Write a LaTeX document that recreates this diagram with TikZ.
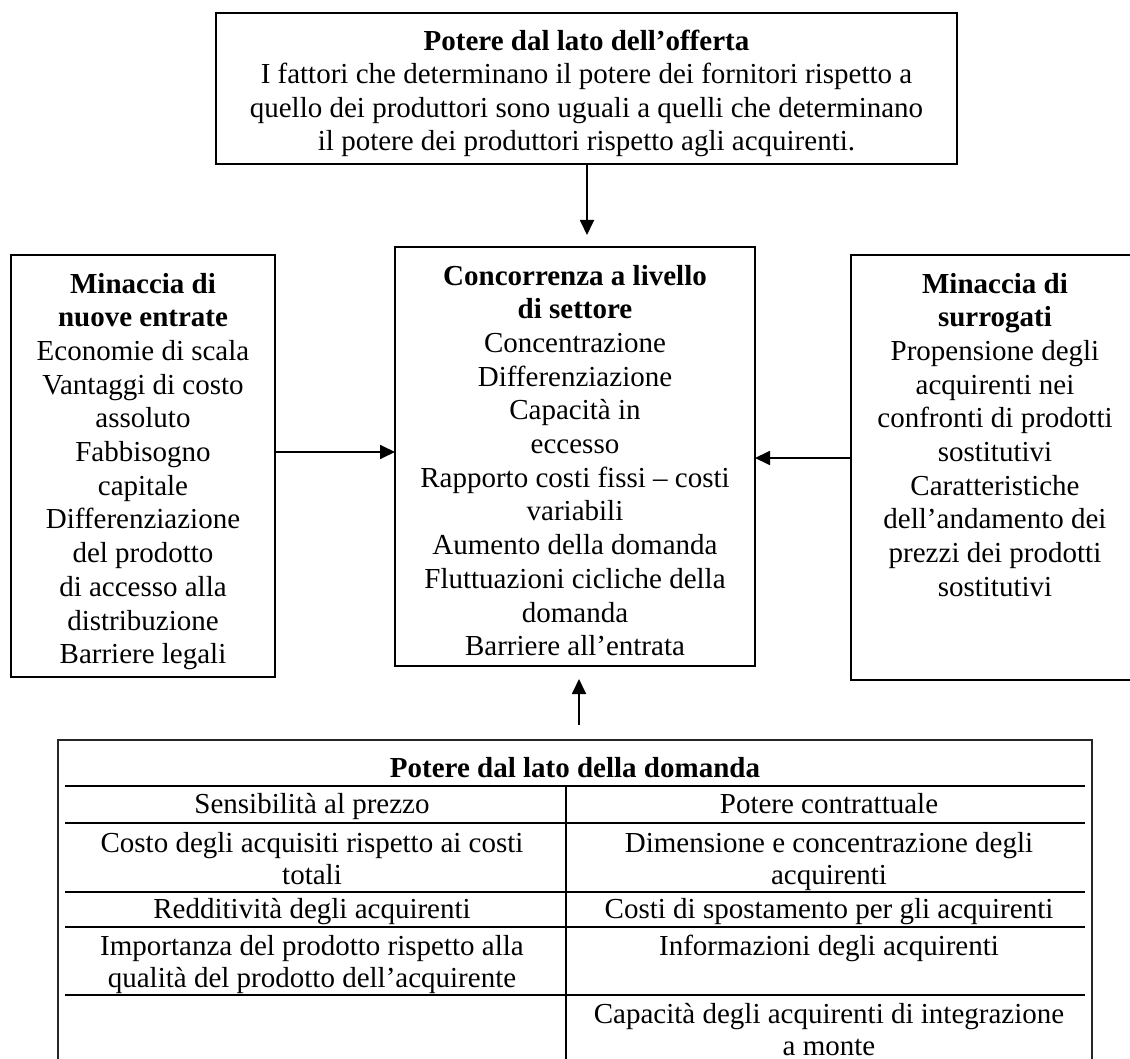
\documentclass[tikz,border=0pt]{standalone}
\usepackage{fontspec}
\setmainfont{Liberation Serif}
\usetikzlibrary{arrows.meta}
\begin{document}
\begin{tikzpicture}[x=1pt,y=-1pt,
  % multi-line texts are placed by the baseline of their last line
  boxtext/.style={align=center, inner sep=0pt, anchor=base,
    font=\fontsize{29}{33.7}\selectfont},
  celltext/.style={align=center, inner sep=0pt, anchor=base,
    font=\fontsize{29}{32}\selectfont},
  frame/.style={draw, line width=2pt, inner sep=0pt, outer sep=0pt, anchor=north west},
  tableframe/.style={draw=black!85, line width=1.5pt, inner sep=0pt, outer sep=0pt, anchor=north west},
  rule/.style={line width=2.5pt},
  arr/.style={line width=1.8pt, -{Triangle[length=15pt,width=14pt]}}]

\useasboundingbox (0,0) rectangle (1130,1059);
\clip (0,0) rectangle (1130,1059);

% ---- boxes of the five forces ----
\node[frame, minimum width=741, minimum height=151] (supply) at (216,12.7) {};
\node[frame, minimum width=264, minimum height=422] (entry)  at (11,255) {};
\node[frame, minimum width=360, minimum height=419] (sector) at (395,247) {};
\node[frame, minimum width=288, minimum height=425] (subst)  at (851,255) {};
\node[tableframe, minimum width=1034, minimum height=340] (demand) at (58,740) {};

% ---- texts of the boxes ----
\node[boxtext, font=\fontsize{29}{33.4}\selectfont] (supplytext) at (586.5,150.7)
  {\textbf{Potere dal lato dell’offerta}\\
   I fattori che determinano il potere dei fornitori rispetto a\\
   quello dei produttori sono uguali a quelli che determinano\\
   il potere dei produttori rispetto agli acquirenti.};

\node[boxtext] (entrytext) at (143,663.7)
  {\textbf{Minaccia di}\\ \textbf{nuove entrate}\\
   Economie di scala\\ Vantaggi di costo\\ assoluto\\ Fabbisogno\\ capitale\\
   Differenziazione\\ del prodotto\\ di accesso alla\\ distribuzione\\ Barriere legali};

\node[boxtext] (sectortext) at (575,655.7)
  {\textbf{Concorrenza a livello}\\ \textbf{di settore}\\
   Concentrazione\\ Differenziazione\\ Capacità in\\ eccesso\\
   Rapporto costi fissi – costi\\ variabili\\ Aumento della domanda\\
   Fluttuazioni cicliche della\\ domanda\\ Barriere all’entrata};

\node[boxtext] (substtext) at (995,596.3)
  {\textbf{Minaccia di}\\ \textbf{surrogati}\\
   Propensione degli\\ acquirenti nei\\ confronti di prodotti\\ sostitutivi\\
   Caratteristiche\\ dell’andamento dei\\ prezzi dei prodotti\\ sostitutivi};

% ---- table of the demand side ----
\foreach \y in {786,823,892,927,995} \draw[rule] (65,\y) -- (1085,\y);
\draw[rule] (566,786) -- (566,1080);

\node[celltext] (dhead) at (575,777) {\textbf{Potere dal lato della domanda}};
\node[celltext] (c11) at (312,813) {Sensibilità al prezzo};
\node[celltext] (c12) at (829,813) {Potere contrattuale};
\node[celltext] (c21) at (312,884) {Costo degli acquisiti rispetto ai costi\\ totali};
\node[celltext] (c22) at (829,884) {Dimensione e concentrazione degli\\ acquirenti};
\node[celltext] (c31) at (312,918) {Redditività degli acquirenti};
\node[celltext] (c32) at (829,918) {Costi di spostamento per gli acquirenti};
\node[celltext] (c41) at (312,987) {Importanza del prodotto rispetto alla\\ qualità del prodotto dell’acquirente};
\node[celltext] (c42) at (829,955) {Informazioni degli acquirenti};
\node[celltext] (c52) at (829,1055) {Capacità degli acquirenti di integrazione\\ a monte};

% ---- connectors ----
\coordinate (tipS) at (587,235);
\coordinate (tailD) at (579,725);
\coordinate (tipD) at (579,679);
\draw[arr] (supply.south -| tipS) -- (tipS);
\draw[arr] (entry.east |- 0,452) -- (sector.west |- 0,452);
\draw[arr] (subst.west |- 0,458) -- (sector.east |- 0,458);
\draw[arr] (tailD) -- (tipD);

\end{tikzpicture}
\end{document}
